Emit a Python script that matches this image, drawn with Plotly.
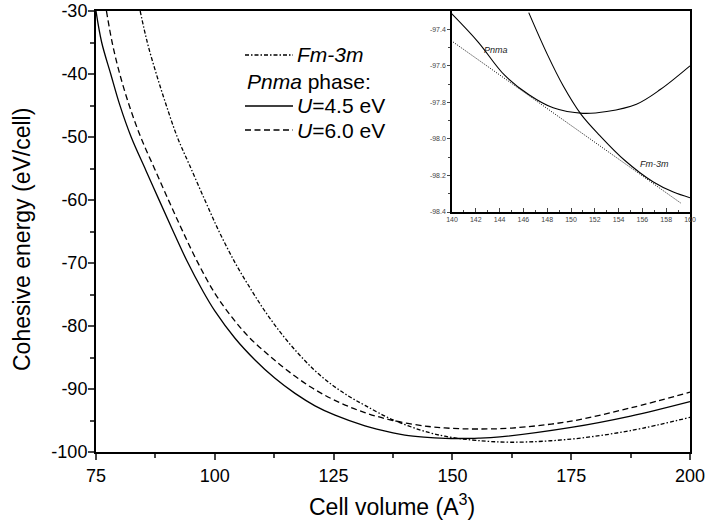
import plotly.graph_objects as go

# ---- main panel data ----
fm_v = [84.3, 85.8, 87.7, 89.8, 92.1, 94.7, 97.9, 100.9, 104.3, 107.7, 110.6, 114.1, 117.6, 121.1, 124.6, 128.1, 131.6, 137.5, 145.0, 150.0, 155.0, 162.5, 175.0, 187.5, 200.0]
fm_e = [-30, -35, -40, -45, -50, -54.5, -60, -65, -70, -74.3, -77.7, -81.3, -84.4, -87.1, -89.3, -91.1, -92.6, -94.9, -96.9, -97.7, -98.15, -98.45, -97.95, -96.6, -94.5]

u45_v = [75.0, 76.2, 78.1, 80.0, 82.4, 85.5, 88.1, 90.9, 94.1, 97.6, 100.0, 104.25, 108.46, 112.67, 116.88, 121.09, 125.3, 131.6, 137.5, 140.0, 144.0, 148.5, 151.5, 155.5, 160.0, 175.0, 187.5, 200.0]
u45_e = [-30, -35, -40, -44.9, -50, -55.3, -59.7, -64.4, -69.6, -74.6, -77.6, -81.94, -85.39, -88.31, -90.70, -92.67, -94.16, -95.85, -96.95, -97.31, -97.63, -97.83, -97.86, -97.81, -97.6, -96.1, -94.3, -92.0]

u60_v = [77.2, 78.4, 80.0, 82.0, 84.4, 87.3, 90.3, 93.2, 96.4, 100.0, 103.6, 107.1, 111.0, 115.0, 120.0, 125.0, 131.0, 137.5, 145.0, 150.0, 155.0, 162.5, 175.0, 187.5, 200.0]
u60_e = [-30, -35, -40, -45, -50, -55, -60.1, -64.9, -69.9, -74.8, -78.6, -81.7, -84.4, -86.9, -89.6, -91.7, -93.6, -95.0, -95.95, -96.25, -96.35, -96.2, -95.1, -93.0, -90.5]

# ---- inset data ----
in_pnma_v = [139.9, 142.2, 144.4, 146.5, 148.5, 151.0, 153.0, 155.5, 157.5, 160.0]
in_pnma_e = [-97.31, -97.47, -97.65, -97.76, -97.83, -97.86, -97.85, -97.81, -97.73, -97.60]
in_fm_v = [146.45, 148.0, 149.34, 150.83, 152.43, 154.53, 156.92, 158.6, 160.0]
in_fm_e = [-97.309, -97.536, -97.709, -97.864, -97.982, -98.118, -98.236, -98.291, -98.322]
tangent_v = [140.1, 159.2]
tangent_e = [-97.47, -98.35]

x_major = [75, 100, 125, 150, 175, 200]
x_minor = [87.5, 112.5, 137.5, 162.5, 187.5]
y_major = [-100, -90, -80, -70, -60, -50, -40, -30]
y_minor = [-95, -85, -75, -65, -55, -45, -35]
top_ticks = [75 + 12.5 * i for i in range(11)]
right_ticks = [-93, -86, -79, -72, -65, -58, -51, -44, -37]
inset_y_major = [-98.4, -98.2, -98.0, -97.8, -97.6, -97.4]
inset_y_minor = [-98.3, -98.1, -97.9, -97.7, -97.5]

FONT = "Liberation Sans"
BLACK = "black"
DASHDOT = "4px,2px,1.5px,2px"
DASH = "6px,3.5px"
SM = 1.0

fig = go.Figure()
fig.add_trace(go.Scatter(x=fm_v, y=fm_e, mode="lines", line=dict(color=BLACK, width=1.3, dash=DASHDOT, shape="spline", smoothing=SM), xaxis="x", yaxis="y"))
fig.add_trace(go.Scatter(x=u45_v, y=u45_e, mode="lines", line=dict(color=BLACK, width=1.3, shape="spline", smoothing=SM), xaxis="x", yaxis="y"))
fig.add_trace(go.Scatter(x=u60_v, y=u60_e, mode="lines", line=dict(color=BLACK, width=1.3, dash=DASH, shape="spline", smoothing=SM), xaxis="x", yaxis="y"))

fig.add_trace(go.Scatter(x=in_pnma_v, y=in_pnma_e, mode="lines", line=dict(color=BLACK, width=1.1, shape="spline", smoothing=SM), xaxis="x2", yaxis="y2"))
fig.add_trace(go.Scatter(x=in_fm_v, y=in_fm_e, mode="lines", line=dict(color=BLACK, width=1.1, shape="spline", smoothing=SM), xaxis="x2", yaxis="y2"))
fig.add_trace(go.Scatter(x=tangent_v, y=tangent_e, mode="lines", line=dict(color=BLACK, width=1, dash="1px,1.5px"), xaxis="x2", yaxis="y2"))

W, H = 705, 529
L, R, T, B = 96, 15, 11, 77
pw, ph = W - L - R, H - T - B

def px(x):
    return (x - L) / pw

def py(y):
    return (H - B - y) / ph

common = dict(showgrid=False, zeroline=False, automargin=False)

fig.update_layout(
    width=W, height=H,
    margin=dict(l=L, r=R, t=T, b=B, autoexpand=False),
    plot_bgcolor="white", paper_bgcolor="white",
    showlegend=False,
    font=dict(family=FONT, color=BLACK),
    xaxis=dict(range=[75, 200], tickvals=x_major, ticktext=[str(v) for v in x_major], ticks="outside", ticklen=6, tickwidth=1.5,
               minor=dict(tickvals=x_minor, ticks="outside", ticklen=4, tickwidth=1.5),
               showline=True, linewidth=2, linecolor=BLACK, mirror=True, ticklabeloverflow="allow",
               tickfont=dict(size=18), **common),
    yaxis=dict(range=[-100, -30], tickvals=y_major, ticktext=[str(v) for v in y_major], ticks="outside", ticklen=6, tickwidth=1.5,
               minor=dict(tickvals=y_minor, ticks="outside", ticklen=4, tickwidth=1.5),
               showline=True, linewidth=2, linecolor=BLACK, mirror=True, ticklabeloverflow="allow", ticklabelstandoff=-3,
               tickfont=dict(size=18), **common),
    xaxis3=dict(overlaying="x", anchor="y", side="top", range=[75, 200], tickvals=top_ticks, ticks="inside", ticklen=5,
                tickwidth=1.5, showticklabels=False, showline=False, **common),
    yaxis3=dict(overlaying="y", anchor="x", side="right", range=[-100, -30], tickvals=right_ticks, ticks="inside", ticklen=5,
                tickwidth=1.5, showticklabels=False, showline=False, **common),
    xaxis2=dict(domain=[px(452), 1.0], anchor="y2", range=[140, 160], dtick=2, ticks="inside", ticklen=4, tickwidth=1,
                minor=dict(dtick=1, ticks="inside", ticklen=2.5, tickwidth=1),
                showline=True, linewidth=1.5, linecolor=BLACK, mirror=True, ticklabeloverflow="allow",
                tickfont=dict(size=7, color="#444"), ticklabelstandoff=0, **common),
    yaxis2=dict(domain=[py(212), 1.0], anchor="x2", range=[-98.4, -97.3], tickvals=inset_y_major,
                ticktext=["%.1f" % v for v in inset_y_major], ticks="outside", ticklen=3, tickwidth=1,
                minor=dict(tickvals=inset_y_minor, ticks="outside", ticklen=2, tickwidth=1),
                showline=True, linewidth=1.5, linecolor=BLACK, mirror=True, ticklabeloverflow="allow",
                tickfont=dict(size=7, color="#444"), **common),
)

# axis titles
fig.add_annotation(xref="paper", yref="paper", x=px(392), y=py(505), text="Cell volume (A<sup>3</sup>)", showarrow=False,
                   xanchor="center", yanchor="middle", font=dict(size=23, family=FONT, color=BLACK))
fig.add_annotation(xref="paper", yref="paper", x=px(22), y=py(240), text="Cohesive energy (eV/cell)", showarrow=False,
                   textangle=-90, xanchor="center", yanchor="middle", font=dict(size=23, family=FONT, color=BLACK))

# legend samples (paper coordinates)
legend_rows = [(55, DASHDOT), (106, "solid"), (130, DASH)]
for yy, dsh in legend_rows:
    fig.add_shape(type="line", xref="paper", yref="paper", x0=px(245), x1=px(293), y0=py(yy), y1=py(yy),
                  line=dict(color=BLACK, width=1.3, dash=dsh))

legend_texts = [
    (297, 55, "<i>Fm-3m</i>"),
    (247, 81, "<i>Pnma</i> phase:"),
    (297, 106, "<i>U</i>=4.5 eV"),
    (297, 130, "<i>U</i>=6.0 eV"),
]
for xx, yy, txt in legend_texts:
    fig.add_annotation(xref="paper", yref="paper", x=px(xx), y=py(yy), text=txt, showarrow=False,
                       xanchor="left", yanchor="middle", xshift=-2, font=dict(size=21, family=FONT, color=BLACK))

fig.add_annotation(xref="x2", yref="y2", x=143.73, y=-97.515, text="<i>Pnma</i>", showarrow=False,
                   font=dict(size=9, family=FONT, color="#222"))
fig.add_annotation(xref="x2", yref="y2", x=157.05, y=-98.14, text="<i>Fm-3m</i>", showarrow=False,
                   font=dict(size=9, family=FONT, color="#222"))

fig.write_html("out.html", config={"displayModeBar": False},
               post_script="document.body.style.margin='0';document.body.style.padding='0';document.body.style.overflow='hidden';")
